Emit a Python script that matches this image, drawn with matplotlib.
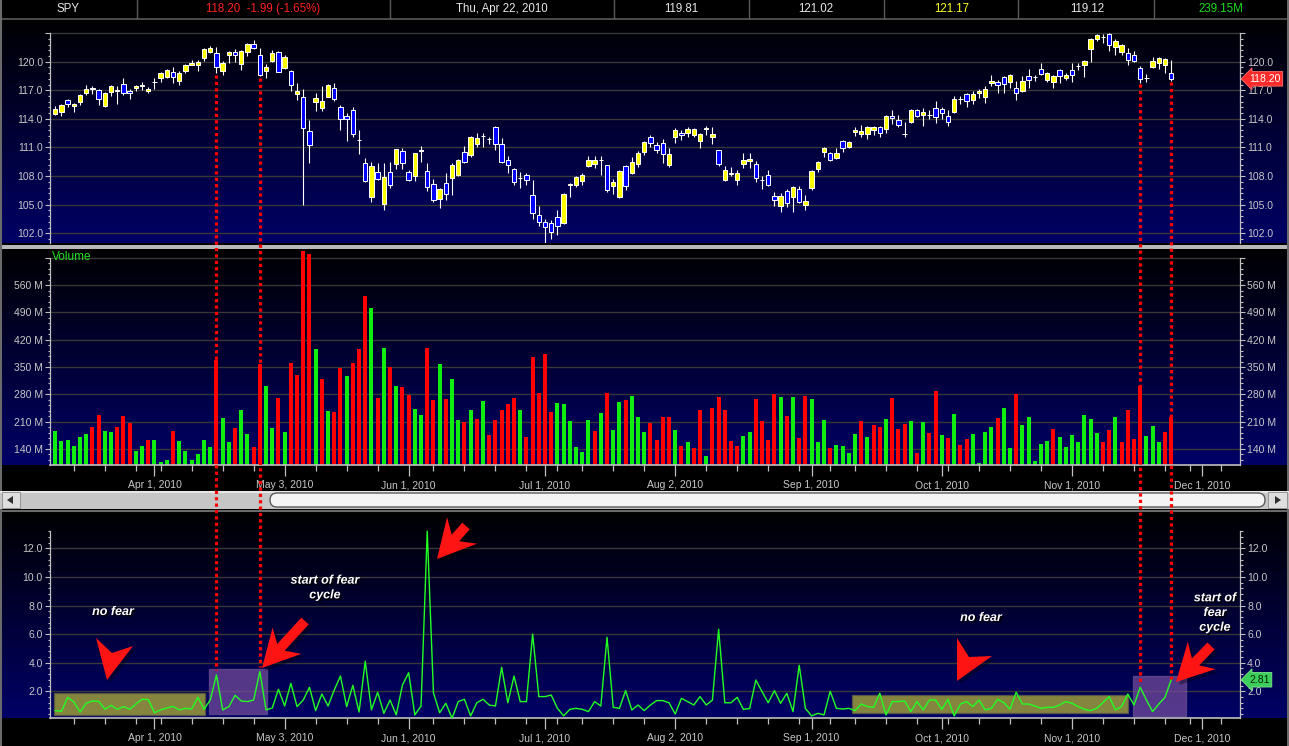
import numpy as np
import pandas as pd
import matplotlib
matplotlib.use("Agg")
import matplotlib.pyplot as plt
from matplotlib.patches import Rectangle, Polygon, FancyBboxPatch
from matplotlib.lines import Line2D
from matplotlib.ticker import FixedLocator
import matplotlib.patheffects as pe
import matplotlib.transforms as mtransforms

plt.rcParams['font.family'] = ['Liberation Sans', 'DejaVu Sans']

# ------------------------------------------------------------------ data
opens = [
    114.5, 114.7, 116.0, 115.3, 115.8, 116.75, 117.1, 117.0, 115.3, 116.8,
    116.95, 117.7, 116.9, 117.2, 117.45, 116.9, 117.85, 118.25, 118.4, 118.9,
    118.0, 119.05, 119.7, 119.7, 120.35, 121.05, 120.9, 119.05, 120.65, 121.0,
    119.8, 121.0, 121.9, 120.65, 119.05, 120.1, 121.0, 119.3, 119.05, 116.6,
    116.25, 112.7, 115.8, 115.1, 116.3, 117.2, 115.2, 114.3, 114.9, 111.8,
    109.4, 105.85, 108.45, 105.1, 108.45, 109.25, 110.65, 108.4, 108.05, 110.65,
    108.55, 107.2, 105.55, 107.25, 107.8, 108.1, 110.5, 110.2, 111.35, 112.25,
    111.85, 113.1, 111.4, 109.7, 108.75, 107.85, 108.1, 106.0, 103.9, 103.2,
    103.1, 103.7, 103.1, 107.1, 107.1, 107.5, 109.1, 109.3, 109.65, 109.15,
    107.0, 105.85, 109.1, 108.35, 109.25, 110.55, 112.15, 111.3, 111.5, 109.2,
    112.05, 112.5, 112.55, 112.3, 111.7, 112.95, 112.1, 110.7, 107.6, 108.25,
    107.55, 109.3, 109.55, 109.25, 107.55, 108.1, 105.95, 104.9, 106.4, 105.85,
    106.6, 104.95, 106.7, 108.7, 110.55, 110.4, 109.85, 111.65, 111.05, 112.6,
    112.45, 112.4, 112.8, 113.1, 112.9, 114.35, 113.9, 112.4, 113.7, 114.95,
    114.45, 114.4, 115.1, 115.0, 114.35, 114.7, 116.05, 116.6, 116.0, 116.75,
    116.3, 117.75, 117.85, 118.35, 117.85, 117.2, 116.9, 118.45, 118.35, 119.2,
    118.1, 117.85, 119.1, 118.25, 119.1, 119.5, 119.7, 121.35, 122.4, 122.6,
    122.9, 121.55, 121.05, 120.9, 120.7, 119.3, 118.3, 119.4, 119.9, 119.7,
    118.8]
highs = [
    115.3, 115.6, 116.1, 115.65, 116.6, 117.5, 117.4, 117.15, 116.85, 117.5,
    117.4, 118.3, 117.15, 117.6, 117.85, 117.3, 118.25, 118.95, 119.25, 119.4,
    119.05, 119.75, 120.15, 120.15, 121.4, 121.65, 121.5, 120.1, 121.1, 121.3,
    121.25, 122.0, 122.25, 121.4, 119.75, 121.2, 121.15, 120.7, 119.1, 117.8,
    117.1, 113.9, 116.75, 117.45, 117.65, 117.75, 115.45, 114.6, 115.2, 112.85,
    109.85, 109.45, 109.4, 109.4, 109.45, 110.85, 110.9, 108.65, 110.4, 111.15,
    109.35, 107.65, 106.8, 108.3, 109.35, 109.8, 111.15, 112.2, 112.5, 112.5,
    112.15, 113.25, 112.0, 110.1, 108.8, 108.45, 108.3, 107.6, 104.85, 103.5,
    103.4, 104.45, 106.2, 107.3, 108.05, 108.3, 110.1, 110.1, 110.1, 109.2,
    107.7, 108.65, 109.15, 110.0, 110.6, 111.7, 112.3, 111.6, 111.85, 110.9,
    113.0, 112.85, 113.1, 113.0, 112.5, 113.25, 113.1, 110.75, 109.05, 108.95,
    108.65, 110.45, 110.45, 109.55, 108.0, 108.65, 106.35, 106.25, 106.6, 106.95,
    106.95, 106.0, 108.65, 109.55, 111.05, 110.5, 110.95, 111.8, 111.7, 113.1,
    113.35, 113.25, 113.25, 113.25, 114.45, 114.9, 114.45, 113.7, 115.0, 115.05,
    115.15, 114.9, 115.85, 115.2, 114.9, 116.4, 116.4, 116.75, 116.9, 117.1,
    117.45, 118.6, 118.1, 118.5, 118.75, 117.95, 118.5, 119.2, 118.6, 119.9,
    118.95, 118.6, 119.25, 118.85, 119.9, 119.9, 120.15, 122.45, 122.95, 122.85,
    122.97, 122.35, 121.9, 121.45, 121.1, 119.55, 118.75, 120.45, 120.5, 120.4,
    120.15]
lows = [
    114.4, 114.35, 115.2, 114.7, 115.5, 116.5, 116.6, 115.5, 115.2, 116.4,
    115.6, 116.5, 116.1, 116.9, 117.0, 116.7, 117.1, 117.9, 118.25, 117.8,
    117.6, 118.85, 119.6, 119.05, 120.1, 120.95, 118.8, 118.55, 119.9, 120.0,
    119.1, 120.6, 121.3, 118.45, 118.3, 120.0, 118.9, 119.2, 116.95, 116.0,
    104.95, 109.4, 114.85, 114.85, 116.25, 115.9, 112.85, 111.7, 112.05, 110.3,
    107.4, 105.3, 107.6, 104.4, 106.75, 108.7, 108.75, 107.5, 107.5, 109.5,
    106.45, 105.3, 104.6, 105.5, 106.0, 108.0, 109.4, 110.05, 111.1, 111.0,
    111.35, 110.75, 109.4, 108.35, 107.05, 106.8, 107.1, 103.45, 102.75, 101.0,
    101.45, 101.8, 102.95, 105.85, 106.9, 107.05, 108.9, 108.85, 108.1, 106.35,
    106.15, 105.75, 106.55, 108.25, 108.9, 110.2, 111.1, 110.4, 109.4, 109.0,
    111.5, 111.8, 112.15, 112.05, 110.9, 112.3, 111.4, 109.1, 107.5, 108.05,
    107.1, 108.85, 108.85, 107.4, 106.65, 107.0, 104.9, 104.25, 104.8, 104.25,
    105.2, 104.45, 106.55, 108.45, 110.0, 109.55, 109.75, 110.55, 110.9, 112.2,
    112.05, 111.9, 112.3, 112.15, 112.55, 113.45, 113.1, 112.15, 113.6, 114.15,
    113.2, 114.0, 113.55, 113.95, 113.2, 114.6, 115.55, 115.2, 115.55, 116.15,
    115.65, 117.4, 116.75, 116.75, 117.25, 115.95, 116.8, 117.2, 118.0, 118.6,
    117.85, 117.2, 117.8, 118.1, 117.9, 119.1, 118.4, 120.0, 122.2, 122.0,
    121.15, 120.75, 120.75, 119.7, 120.0, 117.8, 117.9, 119.3, 119.25, 118.8,
    118.0]
closes = [
    115.0, 115.5, 115.55, 115.6, 116.5, 117.1, 117.2, 116.05, 116.7, 117.4,
    117.0, 116.7, 116.7, 117.45, 117.5, 117.1, 117.9, 118.85, 119.1, 118.4,
    118.85, 119.6, 119.9, 119.95, 121.3, 121.4, 119.4, 119.9, 121.0, 120.75,
    121.1, 121.9, 121.4, 118.55, 119.4, 120.9, 118.9, 120.45, 117.5, 116.9,
    113.0, 111.3, 116.2, 115.9, 117.55, 116.05, 113.95, 113.95, 112.4, 111.75,
    107.5, 109.1, 107.7, 107.9, 107.1, 110.8, 109.35, 107.55, 110.4, 110.7,
    106.9, 105.5, 106.6, 106.1, 109.15, 109.7, 109.5, 112.05, 112.0, 112.2,
    111.9, 111.35, 109.5, 109.2, 107.4, 107.8, 107.55, 104.15, 103.2, 102.7,
    102.15, 102.8, 106.1, 107.15, 107.95, 108.1, 109.7, 109.7, 109.7, 106.55,
    107.4, 108.55, 107.0, 109.45, 110.4, 111.55, 111.5, 110.75, 110.3, 110.3,
    112.8, 112.3, 112.95, 112.9, 112.4, 113.0, 112.4, 109.3, 108.6, 108.3,
    108.3, 109.65, 109.8, 107.85, 107.6, 107.05, 105.5, 105.95, 105.2, 106.85,
    105.3, 105.35, 108.55, 109.45, 110.95, 109.65, 110.4, 110.9, 111.55, 112.85,
    112.75, 113.1, 113.1, 112.5, 114.25, 114.05, 113.4, 112.45, 114.9, 114.25,
    114.7, 114.4, 114.15, 114.65, 113.7, 116.1, 116.05, 115.9, 116.6, 116.9,
    117.15, 117.95, 117.5, 117.7, 118.55, 116.75, 117.95, 118.1, 118.35, 118.7,
    118.8, 118.5, 118.45, 118.6, 118.55, 119.5, 120.05, 122.4, 122.8, 122.6,
    121.7, 122.15, 121.7, 120.2, 120.1, 118.2, 118.3, 120.05, 120.35, 120.25,
    118.2]
volume_m = [
    186, 160, 163, 148, 171, 178, 196, 227, 186, 184,
    196, 224, 207, 135, 148, 163, 163, 107, 112, 186,
    160, 135, 112, 127, 163, 145, 368, 219, 158, 194,
    240, 178, 145, 358, 301, 194, 271, 184, 360, 330,
    647, 639, 396, 319, 237, 235, 347, 327, 360, 396,
    532, 501, 271, 399, 350, 301, 299, 278, 242, 227,
    399, 265, 358, 268, 319, 214, 209, 240, 217, 263,
    176, 214, 240, 255, 271, 240, 171, 376, 283, 383,
    235, 258, 255, 212, 145, 132, 214, 186, 232, 283,
    189, 260, 265, 276, 222, 184, 207, 163, 222, 222,
    189, 148, 158, 143, 240, 122, 245, 273, 240, 160,
    148, 173, 184, 268, 212, 163, 281, 273, 225, 273,
    168, 276, 268, 158, 214, 143, 150, 148, 130, 178,
    212, 171, 201, 196, 217, 271, 191, 204, 212, 130,
    209, 181, 289, 176, 168, 230, 150, 166, 178, 104,
    184, 196, 219, 245, 143, 281, 201, 222, 109, 153,
    160, 191, 171, 145, 176, 158, 227, 217, 181, 158,
    189, 222, 158, 240, 166, 301, 173, 199, 158, 184,
    222]
volume_dir = ("GGGGGGRRGG" "RRRGGRGGGR" "GGGGGGRGGR" "GGRRGGRGRR" "RRGRGRRGRR"
              "RGRGRGRRGG" "RRGRGGRGRG" "RRRRRGRRRR" "RGGGGGGRGR" "GGRGGGRRRR"
              "GRGRRGRRRR" "RGGRRRRGRG" "RRGGGRGGGG" "RGRRGRRRGR" "GRRGRGRRGG"
              "GGRGGRGGGG" "GRGGGGGGGR" "RGRRRRGGGR" "R")
fear = [
    0.65, 0.6, 1.58, 1.25, 0.55, 1.16, 1.32, 1.3, 0.74, 1.02,
    0.74, 0.93, 0.74, 1.11, 1.44, 1.42, 0.5, 0.7, 0.83, 0.95,
    0.7, 0.81, 0.76, 1.58, 0.74, 1.39, 3.14, 0.7, 0.93, 1.72,
    1.32, 1.28, 1.39, 3.38, 0.7, 0.83, 2.14, 0.97, 2.56, 0.93,
    1.39, 2.28, 0.65, 1.81, 0.97, 2.09, 3.07, 0.93, 2.42, 0.55,
    4.1, 0.7, 1.93, 0.46, 1.39, 0.35, 2.44, 3.3, 0.35, 0.97,
    13.2, 1.9, 0.5, 1.16, 0.11, 1.28, 1.44, 0.28, 1.2, 1.44,
    1.04, 0.97, 3.68, 1.2, 3.07, 1.28, 1.28, 6.0, 1.63, 1.63,
    1.74, 0.81, 0.28, 0.74, 0.81, 0.74, 0.58, 1.28, 0.97, 5.78,
    0.88, 0.81, 2.05, 0.69, 1.04, 0.65, 1.04, 1.35, 1.35, 1.2,
    0.41, 1.51, 1.28, 1.04, 1.63, 1.04, 1.39, 6.34, 1.2, 1.2,
    1.58, 0.74, 0.79, 2.79, 1.98, 1.2, 2.05, 1.16, 1.86, 0.58,
    3.82, 0.8, 0.28, 0.46, 0.35, 2.0, 0.81, 0.76, 0.81, 0.65,
    1.11, 0.93, 0.88, 1.86, 0.35, 1.28, 1.28, 1.32, 0.58, 1.28,
    0.7, 1.39, 1.39, 0.74, 1.44, 0.28, 1.11, 1.28, 0.93, 1.39,
    0.7, 0.81, 1.44, 1.21, 0.74, 1.93, 1.11, 1.11, 0.97, 0.81,
    0.88, 0.88, 1.04, 1.28, 1.16, 0.93, 0.74, 0.65, 0.81, 1.21,
    1.63, 0.7, 0.93, 1.81, 1.04, 2.28, 1.39, 0.58, 1.11, 1.58,
    2.81]

header_texts = ["SPY", "118.20  -1.99 (-1.65%)", "Thu, Apr 22, 2010",
                "119.81", "121.02", "121.17", "119.12", "239.15M"]
start_date, end_axis_date = "2010-03-10", "2010-12-31"
market_holidays = ["2010-04-02", "2010-05-31", "2010-07-05", "2010-09-06",
                   "2010-11-25", "2010-12-24"]
price_ticks = [102, 105, 108, 111, 114, 117, 120, 123]
volume_ticks = [140, 210, 280, 350, 420, 490, 560, 630]
fear_ticks = [2, 4, 6, 8, 10, 12]
marker_bars = [26, 33, 175, 180]

# ------------------------------------------------------------------ figure
W, H = 1289, 746
fig = plt.figure(figsize=(W / 100, H / 100), dpi=100, facecolor="black")


def rect(x0, y0, x1, y1):
    return [x0 / W, 1 - y1 / H, (x1 - x0) / W, (y1 - y0) / H]


def P(x, y):
    return (x / W, 1 - y / H)


def add_rect(x0, y0, x1, y1, **kw):
    r = Rectangle(P(x0, y1), (x1 - x0) / W, (y1 - y0) / H,
                  transform=fig.transFigure, **kw)
    fig.add_artist(r)
    return r


def gradient_bg(y0, y1):
    bg = fig.add_axes(rect(2, y0, 1287, y1), zorder=-5)
    t = np.linspace(0, 1, 256)[:, None]
    img = np.zeros((256, 1, 3))
    img[..., 0] = 0.0
    img[..., 1] = 0.0
    img[..., 2] = 0.01 + 0.39 * t
    bg.imshow(img, aspect="auto", extent=[0, 1, 0, 1], interpolation="bilinear")
    bg.axis("off")


gradient_bg(20, 243)
gradient_bg(250, 465)
gradient_bg(513, 718)

n = len(closes)
x = np.arange(n)
XMIN, XMAX = -0.85, 191.1

cal = pd.bdate_range(start_date, end_axis_date)
cal = cal[~cal.isin(pd.to_datetime(market_holidays))]
week_pos, month_pos, month_lab = [], [], []
for k in range(1, len(cal)):
    if k > XMAX:
        break
    if cal[k].weekday() < cal[k - 1].weekday():
        week_pos.append(k)
    if cal[k].month != cal[k - 1].month:
        month_pos.append(k)
        month_lab.append(f"{cal[k]:%b} {cal[k].day}, {cal[k].year}")

AX_COL = "#c0c0c0"
LAB_COL = "#c8c8c8"


def style(ax, ylim, majors, labels, minors, spine_top, show_x):
    ax.set_facecolor("none")
    ax.set_xlim(XMIN, XMAX)
    ax.set_ylim(*ylim)
    ax.set_yticks(majors, labels=labels)
    ax.yaxis.set_minor_locator(FixedLocator(minors))
    ax.set_axisbelow(True)
    ax.grid(True, axis="y", which="major", color="#383838", lw=1)
    ax.tick_params(axis="y", which="major", length=3.6, width=0.8, color=AX_COL,
                   labelsize=7.5, labelcolor=LAB_COL, pad=1.5, left=True,
                   right=True, labelleft=True, labelright=True, direction="out")
    ax.tick_params(axis="y", which="minor", length=1.8, width=0.8, color=AX_COL,
                   left=True, right=True, direction="out")
    for s in ("left", "right"):
        ax.spines[s].set_color(AX_COL)
        ax.spines[s].set_linewidth(0.9)
        ax.spines[s].set_bounds(ylim[0], spine_top)
    ax.spines["top"].set_visible(False)
    if show_x:
        ax.spines["bottom"].set_color(AX_COL)
        ax.spines["bottom"].set_linewidth(1.2)
        ax.set_xticks(month_pos, labels=month_lab)
        ax.set_xticks(week_pos, minor=True)
        ax.tick_params(axis="x", which="major", length=8, width=0.9, color=AX_COL,
                       labelsize=7.5, labelcolor=LAB_COL, pad=3)
        ax.tick_params(axis="x", which="minor", length=4, width=0.9, color=AX_COL)
    else:
        ax.spines["bottom"].set_visible(False)
        ax.tick_params(axis="x", which="both", bottom=False, labelbottom=False)


# ---------------- price panel
ax_p = fig.add_axes(rect(50, 20, 1240, 243), zorder=1)
style(ax_p, (100.98, 124.37), price_ticks,
      [f"{v:.1f}" if v < 123 else "" for v in price_ticks],
      np.arange(101.4, 123.01, 0.6), 123, False)
o, h, l, c = map(np.array, (opens, highs, lows, closes))
up = c >= o
ax_p.vlines(x, l, h, color="white", lw=0.8, zorder=2)
ax_p.bar(x, np.abs(c - o), bottom=np.minimum(o, c), width=0.7,
         color=np.where(up, "#ffff00", "#0000ff"), edgecolor="white",
         linewidth=0.7, zorder=3)

ax_p.text(1.0 + 9 / 1190, closes[-1], f"{closes[-1]:.2f}",
          transform=mtransforms.blended_transform_factory(ax_p.transAxes, ax_p.transData),
          ha="left", va="center", color="white", fontsize=7.5, zorder=10, clip_on=False,
          bbox=dict(boxstyle="larrow,pad=0.22", fc="#ff2a2a", ec="#ff7070", lw=0.6))

# ---------------- volume panel
ax_v = fig.add_axes(rect(50, 250, 1240, 465), zorder=1)
style(ax_v, (99, 650), volume_ticks,
      [f"{v} M" if v < 630 else "" for v in volume_ticks],
      np.arange(112, 631, 14), 630, True)
ax_v.bar(x, volume_m, width=0.64,
         color=["#10ee10" if d == "G" else "#ff0000" for d in volume_dir], zorder=2)
fig.text(*P(52, 257), "Volume", color="#22e022", fontsize=8.5, ha="left", va="center")

# ---------------- indicator panel
ax_f = fig.add_axes(rect(50, 513, 1240, 718), zorder=1)
style(ax_f, (0.133, 14.47), fear_ticks, [f"{v:.1f}" for v in fear_ticks],
      np.arange(0.4, 13.21, 0.4), 13.2, True)

boxes = [(-0.2, 24.1, 0.35, 1.9, "#a8a838", "#5c5c40", 0.8),
         (24.8, 34.1, 0.41, 3.56, "#7a4f9e", "#6a5490", 0.7),
         (128.5, 173.0, 0.48, 1.74, "#a8a838", "#5c5c40", 0.8),
         (173.8, 182.4, 0.27, 3.07, "#7a4f9e", "#6a5490", 0.7)]
for x0, x1, y0, y1, fc, ec, a in boxes:
    ax_f.add_patch(Rectangle((x0, y0), x1 - x0, y1 - y0, fc=fc, ec=ec, lw=1.0,
                             alpha=a, zorder=2))
ax_f.plot(x, fear, color="#22ff22", lw=1.0, zorder=3)
ax_f.text(1.0 + 9 / 1190, fear[-1], f"{fear[-1]:.2f}",
          transform=mtransforms.blended_transform_factory(ax_f.transAxes, ax_f.transData),
          ha="left", va="center", color="#062006", fontsize=7.5, zorder=10, clip_on=False,
          bbox=dict(boxstyle="larrow,pad=0.22", fc="#3ccf5a", ec="#80e090", lw=0.6))

# ---------------- red dotted connectors (from candle low to the fear panel)
end_vals = [3.5, 3.7, 2.6, 2.85]
to_fig = fig.transFigure.inverted()
for bi, ev in zip(marker_bars, end_vals):
    xa, ya = to_fig.transform(ax_p.transData.transform((bi, lows[bi])))
    xb, yb = to_fig.transform(ax_f.transData.transform((bi, ev)))
    fig.add_artist(Line2D([xa, xb], [ya - 1.5 / H, yb], transform=fig.transFigure,
                          color="#ff0000", lw=2.3, linestyle=(0, (1, 1)),
                          dash_capstyle="butt", zorder=20))

# ---------------- header
for xs in [136.5, 390, 614, 749, 884, 1018, 1154]:
    fig.add_artist(Line2D([xs / W] * 2, [1, 1 - 18 / H], transform=fig.transFigure,
                          color="#5a5a5a", lw=1))
fig.add_artist(Line2D([0, 1], [1 - 18.5 / H] * 2, transform=fig.transFigure,
                      color="#5a5a5a", lw=1.2))
hx = [68, 263, 502, 681, 816, 952, 1087, 1221]
hcol = ["#e8e8e8", "#ff2020", "#e8e8e8", "#e8e8e8", "#e8e8e8", "#ffff20",
        "#e8e8e8", "#20dd20"]
for t, xx, col in zip(header_texts, hx, hcol):
    fig.text(*P(xx, 9), t, color=col, fontsize=8.3, ha="center", va="center")

# separators / borders
add_rect(0, 245, W, 249, fc="#b8b8b8", ec="none", zorder=4)
fig.add_artist(Line2D([0, 1], [1 - 511 / H] * 2, transform=fig.transFigure,
                      color="#6a6a6a", lw=1.5, zorder=4))
for xb in (1, 1288):
    fig.add_artist(Line2D([xb / W] * 2, [0, 1], transform=fig.transFigure,
                          color="#6a6a6a", lw=1.5, zorder=4))

# ---------------- scrollbar
add_rect(0, 491, W, 509, fc="#c6c6c6", ec="none", zorder=5)
add_rect(0, 491, W, 493, fc="#e6e6e6", ec="none", zorder=5)
add_rect(2, 492, 20, 508, fc="#dedede", ec="#8a8a8a", lw=0.6, zorder=6)
fig.add_artist(Polygon([P(7, 500), P(13, 496), P(13, 504)], closed=True,
                       transform=fig.transFigure, fc="#303030", ec="none", zorder=7))
thumb = FancyBboxPatch((270, H - 507), 995, 14, boxstyle="round,pad=0,rounding_size=7",
                       transform=mtransforms.IdentityTransform(), fc="#f4f4f4",
                       ec="#5a5a5a", lw=1.0, zorder=6)
fig.add_artist(thumb)
add_rect(1268, 492, 1287, 508, fc="#dedede", ec="#8a8a8a", lw=0.6, zorder=6)
fig.add_artist(Polygon([P(1281, 500), P(1275, 496), P(1275, 504)], closed=True,
                       transform=fig.transFigure, fc="#303030", ec="none", zorder=7))

# ---------------- red arrows
RED = "#ff1414"


def add_poly(pts):
    fig.add_artist(Polygon([P(px + 3, py + 3) for px, py in pts], closed=True,
                           transform=fig.transFigure, fc="black", ec="none",
                           alpha=0.35, zorder=14))
    fig.add_artist(Polygon([P(px, py) for px, py in pts], closed=True,
                           transform=fig.transFigure, fc=RED, ec="none", zorder=15))


def swept_arrow(tip, tail, wing_back, notch, hw, shw):
    tip = np.array(tip, float)
    tail = np.array(tail, float)
    L = np.linalg.norm(tail - tip)
    d = (tail - tip) / L
    nrm = np.array([-d[1], d[0]])
    pts = [tip, tip + d * wing_back + nrm * hw, tip + d * notch + nrm * shw,
           tip + d * L + nrm * shw, tip + d * L - nrm * shw,
           tip + d * notch - nrm * shw, tip + d * wing_back - nrm * hw]
    return [tuple(p) for p in pts]


add_poly([(96, 638), (112, 653), (133, 646), (107, 680)])
add_poly([(957, 638), (969, 657), (992, 656), (957, 681)])
add_poly(swept_arrow((262, 668), (305, 621), 37, 28, 19.5, 5))
add_poly(swept_arrow((437, 559), (466, 526), 38, 28, 20, 5))
add_poly(swept_arrow((1176, 682), (1211, 646), 37, 28, 19.5, 5))

# ---------------- annotation texts
shadow = [pe.SimplePatchShadow(offset=(1.2, -1.2), shadow_rgbFace="black", alpha=0.9),
          pe.Normal()]
notes = [((113, 612), "no fear"), ((325, 588), "start of fear\ncycle"),
         ((981, 618), "no fear"), ((1215, 613), "start of\nfear\ncycle")]
for (xx, yy), t in notes:
    fig.text(*P(xx, yy), t, color="white", fontsize=9, fontweight="bold",
             fontstyle="italic", ha="center", va="center", linespacing=1.3,
             path_effects=shadow, zorder=16)

fig.savefig("out.png", dpi=100, facecolor="black")
